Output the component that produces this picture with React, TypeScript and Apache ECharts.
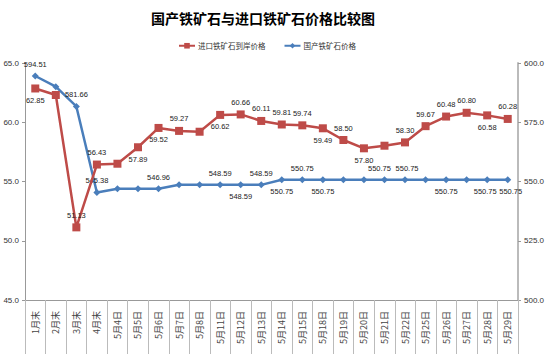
import React, { useEffect, useRef } from "react";
import * as echarts from "echarts";

const categories = ["1月末", "2月末", "3月末", "4月末", "5月4日", "5月5日", "5月6日", "5月7日", "5月8日", "5月11日", "5月12日", "5月13日", "5月14日", "5月15日", "5月18日", "5月19日", "5月20日", "5月21日", "5月22日", "5月25日", "5月26日", "5月27日", "5月28日", "5月29日"];
const importPrice = [62.85, 62.3, 51.13, 56.43, 56.5, 57.89, 59.52, 59.27, 59.2, 60.62, 60.66, 60.11, 59.81, 59.74, 59.49, 58.5, 57.8, 58.02, 58.3, 59.67, 60.48, 60.8, 60.58, 60.28];
const domesticPrice = [594.51, 590.0, 581.66, 545.38, 546.96, 546.96, 546.96, 548.59, 548.59, 548.59, 548.59, 548.59, 550.75, 550.75, 550.75, 550.75, 550.75, 550.75, 550.75, 550.75, 550.75, 550.75, 550.75, 550.75];
// label placement: t = above, b = below, "" = no label
const importLabelPos = ["b", "", "t", "t", "", "b", "b", "t", "", "b", "t", "t", "t", "t", "b", "t", "b", "", "t", "t", "t", "t", "b", "t"];
const domesticLabelPos = ["t", "", "t", "t", "", "", "t", "", "", "t", "b", "t", "b", "t", "b", "", "", "t", "t", "", "b", "", "b", "b"];
// small horizontal nudges of some labels (px), as in the original
const domesticLabelDx = [0, 0, 0, 0, 0, 0, 0, 0, 0, 0, 0, 0, 0, 0, 0, 0, 0, -5, 2, 0, 0, 0, -2, 3];
const leftTicks = [45, 65, 5];
const rightTicks = [500, 600, 25];

const RED = "#BE4B48";
const BLUE = "#4A7EBB";

function buildData(values: number[], pos: string[], fmt: (v: number) => string, dx?: number[]) {
  return values.map((v, i) => ({
    value: v,
    label: pos[i]
      ? {
          show: true,
          position: pos[i] === "t" ? "top" : "bottom",
          offset: [dx ? dx[i] : 0, 0],
          formatter: () => fmt(v),
        }
      : { show: false },
  }));
}

export default function App() {
  const ref = useRef<HTMLDivElement>(null);
  useEffect(() => {
    const chart = echarts.init(ref.current!, undefined, { renderer: "svg" });
    const labelStyle = { fontSize: 7.5, color: "#222", distance: 4, fontFamily: "Liberation Sans" };
    chart.setOption({
      animation: false,
      title: {
        text: "国产铁矿石与进口铁矿石价格比较图",
        left: 146,
        top: 6,
        textStyle: { fontSize: 14, fontWeight: "bold", color: "#000", fontFamily: "Noto Sans CJK SC" },
      },
      legend: {
        top: 37,
        left: 173,
        itemGap: 18,
        itemWidth: 16,
        itemHeight: 7,
        textStyle: { fontSize: 7.5, color: "#333", fontFamily: "Noto Sans CJK SC", padding: [0, 0, 0, -2] },
        data: ["进口铁矿石到岸价格", "国产铁矿石价格"],
      },
      grid: { left: 25, right: 33, top: 63, bottom: 54 },
      xAxis: {
        type: "category",
        data: categories,
        boundaryGap: true,
        axisLine: { lineStyle: { color: "#999", width: 1 } },
        axisTick: { show: true, interval: 0, length: 54, lineStyle: { color: "#bbb" } },
        axisLabel: { rotate: 90, interval: 0, fontSize: 9, color: "#444", margin: 11, fontFamily: "Noto Sans CJK SC" },
      },
      yAxis: [
        {
          type: "value",
          min: leftTicks[0],
          max: leftTicks[1],
          interval: leftTicks[2],
          splitLine: { show: false },
          axisLine: { show: true, lineStyle: { color: "#999" } },
          axisTick: { show: true, length: 3, lineStyle: { color: "#999" } },
          axisLabel: { fontSize: 8, color: "#333", margin: 6, formatter: (v: number) => v.toFixed(1), fontFamily: "Liberation Sans" },
        },
        {
          type: "value",
          min: rightTicks[0],
          max: rightTicks[1],
          interval: rightTicks[2],
          position: "right",
          splitLine: { show: false },
          axisLine: { show: true, lineStyle: { color: "#bbb", width: 2 } },
          axisTick: { show: true, length: 3, lineStyle: { color: "#999" } },
          axisLabel: { fontSize: 8, color: "#333", margin: 6, formatter: (v: number) => v.toFixed(1), fontFamily: "Liberation Sans" },
        },
      ],
      series: [
        {
          name: "进口铁矿石到岸价格",
          type: "line",
          yAxisIndex: 0,
          data: buildData(importPrice, importLabelPos, (v) => v.toFixed(2)),
          symbol: "rect",
          symbolSize: 8,
          lineStyle: { color: RED, width: 2.5 },
          itemStyle: { color: RED },
          label: labelStyle,
          z: 3,
        },
        {
          name: "国产铁矿石价格",
          type: "line",
          yAxisIndex: 1,
          data: buildData(domesticPrice, domesticLabelPos, (v) => v.toFixed(2), domesticLabelDx),
          symbol: "diamond",
          symbolSize: 7,
          lineStyle: { color: BLUE, width: 2.5 },
          itemStyle: { color: BLUE },
          label: labelStyle,
          z: 2,
        },
      ],
    });
    return () => chart.dispose();
  }, []);
  return <div ref={ref} style={{ width: 551, height: 354, position: "absolute", left: 0, top: 0, background: "#fff" }} />;
}
